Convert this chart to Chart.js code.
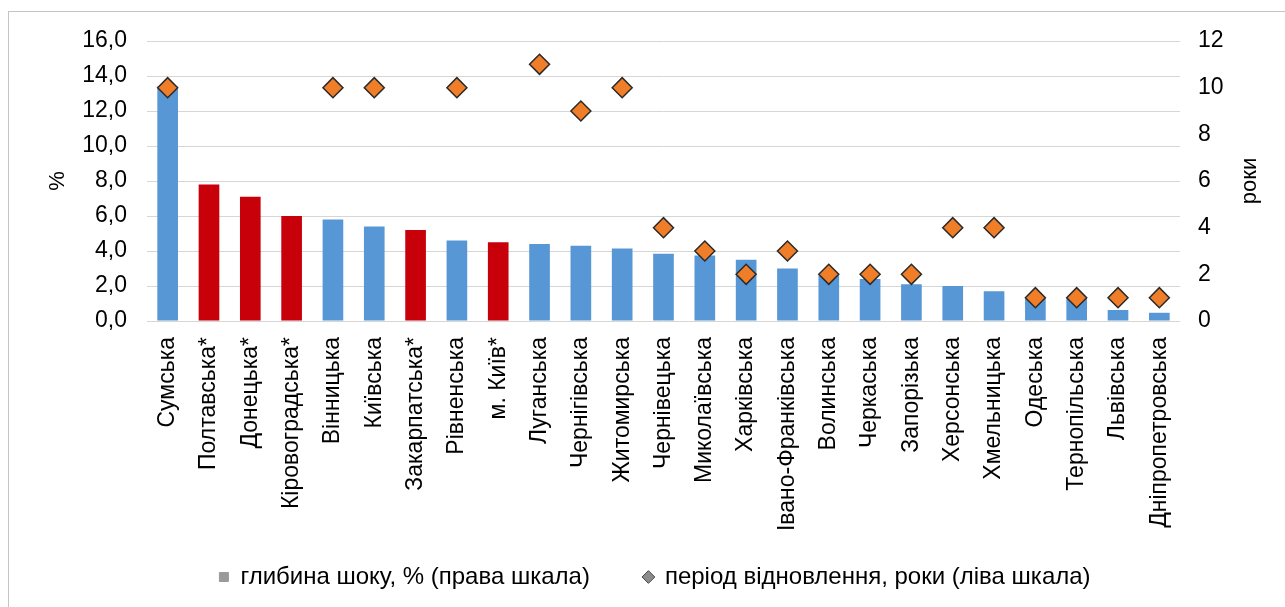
<!DOCTYPE html>
<html>
<head>
<meta charset="utf-8">
<script src="https://cdn.jsdelivr.net/npm/chart.js@4"></script>
<style>
  body { margin: 0; background: #fff; overflow: hidden; }
  #frame { position: absolute; left: 8px; top: 11px; width: 1300px; height: 620px; border: 1px solid #c4c4c4; }
  #shockChart { position: absolute; left: 0; top: 0; }
</style>
</head>
<body>
<div id="frame"></div>
<canvas id="shockChart" width="1285" height="607"></canvas>
<script>
// регіони (зірочка = червоний стовпчик)
var regions = ["Сумська", "Полтавська*", "Донецька*", "Кіровоградська*", "Вінницька", "Київська",
    "Закарпатська*", "Рівненська", "м. Київ*", "Луганська", "Чернігівська", "Житомирська",
    "Чернівецька", "Миколаївська", "Харківська", "Івано-Франківська", "Волинська", "Черкаська",
    "Запорізька", "Херсонська", "Хмельницька", "Одеська", "Тернопільська", "Львівська", "Дніпропетровська"];

// глибина шоку, %
var shockDepth = [13.4, 7.8, 7.1, 6.0, 5.8, 5.4, 5.2, 4.6, 4.5, 4.4, 4.3, 4.15, 3.85, 3.75, 3.5, 3.0,
    2.6, 2.4, 2.1, 2.0, 1.7, 1.3, 1.3, 0.63, 0.47];

// період відновлення, роки
var recoveryYears = [10, null, null, null, 10, 10, null, 10, null, 11, 9, 10, 4, 3, 2, 3, 2, 2, 2,
    4, 4, 1, 1, 1, 1];

var leftTicks = [0, 16, 2];
var rightTicks = [0, 12, 2];

var blue = "#5897D6";
var red = "#C8000A";
var family = "'Liberation Sans', Arial, sans-serif";
var font = { family: family, size: 22 };
var tickFont = { family: family, size: 23 };
var legendFont = { family: family, size: 24 };

var barColors = regions.map(function (r) { return r.slice(-1) === "*" ? red : blue; });

// назва правої осі, повернута як у Excel (знизу вгору)
var rightTitle = {
    id: "rightTitle",
    afterDraw: function (chart) {
        var ctx = chart.ctx;
        var s = chart.scales.y1;
        ctx.save();
        ctx.translate(1250, (s.top + s.bottom) / 2);
        ctx.rotate(-Math.PI / 2);
        ctx.font = font.size + "px " + family;
        ctx.fillStyle = "#000";
        ctx.textAlign = "center";
        ctx.textBaseline = "middle";
        ctx.fillText("роки", 0, 0);
        ctx.restore();
    }
};

new Chart("shockChart", {
    type: "bar",
    data: {
        labels: regions,
        datasets: [{
            label: "глибина шоку, % (права шкала)",
            data: shockDepth,
            backgroundColor: barColors,
            barPercentage: 0.5,
            categoryPercentage: 1,
            yAxisID: "y",
            order: 2
        }, {
            type: "line",
            label: "період відновлення, роки (ліва шкала)",
            data: recoveryYears,
            showLine: false,
            pointStyle: "rectRot",
            pointRadius: 10,
            pointHoverRadius: 10,
            pointBackgroundColor: "#F07D28",
            pointBorderColor: "#2a2a2a",
            pointBorderWidth: 1.5,
            yAxisID: "y1",
            order: 1
        }]
    },
    options: {
        responsive: false,
        animation: false,
        layout: { padding: { top: 41, left: 25, right: 0, bottom: 8 } },
        plugins: {
            tooltip: { enabled: false },
            legend: {
                position: "bottom",
                labels: {
                    usePointStyle: true,
                    boxWidth: 9,
                    boxHeight: 9,
                    padding: 54,
                    color: "#000",
                    font: legendFont,
                    generateLabels: function (chart) {
                        return chart.data.datasets.map(function (ds, i) {
                            return {
                                text: ds.label,
                                fillStyle: i === 0 ? "#9a9a9a" : "#8c8c8c",
                                strokeStyle: i === 0 ? "#9a9a9a" : "#444",
                                lineWidth: 1,
                                pointStyle: i === 0 ? "rect" : "rectRot",
                                fontColor: "#000",
                                datasetIndex: i,
                                hidden: false
                            };
                        });
                    }
                }
            }
        },
        scales: {
            x: {
                grid: { display: false },
                border: { display: false },
                ticks: { color: "#000", font: tickFont, minRotation: 90, maxRotation: 90, padding: 8, autoSkip: false },
                afterFit: function (scale) {
                    scale.height = 190;
                    // підписи довші за вісь - не обрізати їх
                    scale._computeLabelArea = function () {};
                }
            },
            y: {
                position: "left",
                min: leftTicks[0],
                max: leftTicks[1],
                ticks: {
                    stepSize: leftTicks[2],
                    color: "#000",
                    font: tickFont,
                    padding: 20,
                    callback: function (v) { return v.toFixed(1).replace(".", ","); }
                },
                grid: { color: "#d6d6d6", drawTicks: false },
                border: { display: false },
                title: { display: true, text: "%", color: "#000", font: font, padding: { top: 20, bottom: 0 } },
                afterFit: function (scale) { scale.width = 122; }
            },
            y1: {
                position: "right",
                min: rightTicks[0],
                max: rightTicks[1],
                ticks: { stepSize: rightTicks[2], color: "#000", font: tickFont, padding: 18 },
                grid: { display: false, drawTicks: false },
                border: { display: false },
                afterFit: function (scale) { scale.width = 105; }
            }
        }
    },
    plugins: [rightTitle]
});
</script>
</body>
</html>
